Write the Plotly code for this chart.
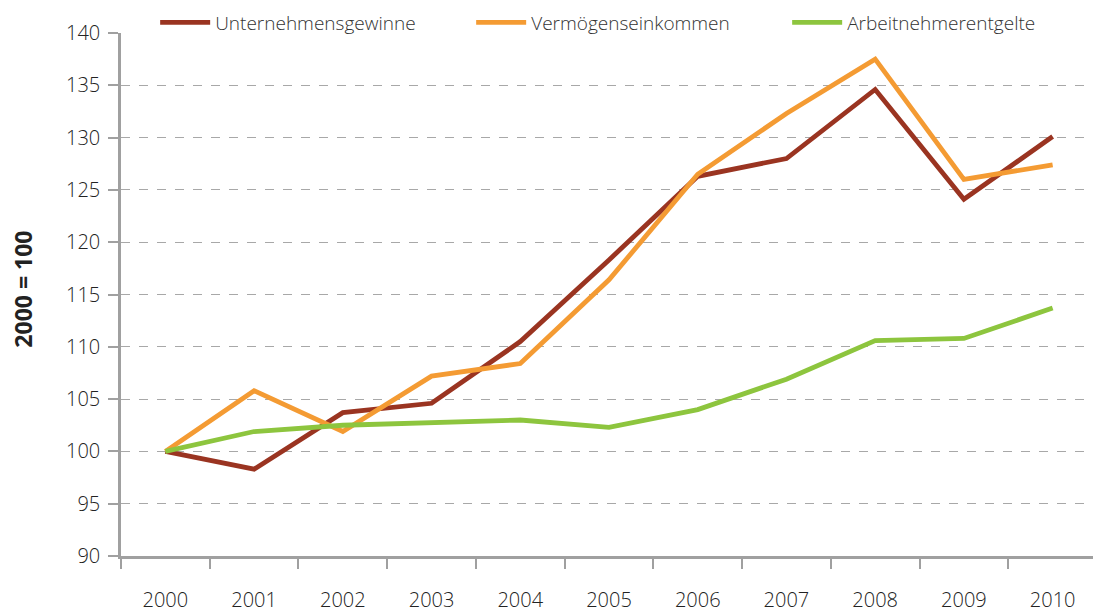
import plotly.graph_objects as go

years = ["2000", "2001", "2002", "2003", "2004", "2005", "2006", "2007", "2008", "2009", "2010"]
unternehmensgewinne = [100, 98.3, 103.7, 104.6, 110.5, 118.3, 126.3, 128.0, 134.6, 124.1, 130.1]
vermoegenseinkommen = [100, 105.8, 101.9, 107.2, 108.4, 116.4, 126.5, 132.3, 137.5, 126.0, 127.4]
arbeitnehmerentgelte = [100, 101.9, 102.5, 102.7, 103.0, 102.3, 104.0, 106.9, 110.6, 110.8, 113.7]
y_ticks = [90, 95, 100, 105, 110, 115, 120, 125, 130, 135, 140]

FONT = "Open Sans"

fig = go.Figure()
series = [
    ("Unternehmensgewinne", unternehmensgewinne, "#9A3421"),
    ("Vermögenseinkommen", vermoegenseinkommen, "#F49B33"),
    ("Arbeitnehmerentgelte", arbeitnehmerentgelte, "#8DC53E"),
]
for name, vals, col in series:
    fig.add_trace(go.Scatter(x=years, y=vals, name=name, mode="lines",
                             line=dict(color=col, width=4.8)))

# page body has a default 8px margin, so the figure is sized to fit the window
fig.update_layout(
    width=1093, height=605,
    margin=dict(l=113, r=4, t=25, b=57, autoexpand=False),
    paper_bgcolor="white", plot_bgcolor="white",
    font=dict(family=FONT, color="#222222", size=20, weight=300),
    showlegend=True,
    legend=dict(orientation="h", x=0.035, xanchor="left", y=1.02, yanchor="middle",
                bgcolor="white", font=dict(size=19, color="#333333", weight=300),
                entrywidth=251, entrywidthmode="pixels", itemwidth=50,
                traceorder="normal"),
    xaxis=dict(type="category", range=[-0.5, 10.5], tickson="boundaries",
               showline=True, linecolor="#A0A0A0", linewidth=2.5,
               ticks="outside", ticklen=10, tickwidth=2, tickcolor="#A0A0A0",
               showgrid=False, ticklabelstandoff=24,
               tickfont=dict(size=20, color="#222222", weight=300)),
    yaxis=dict(range=[90, 140], tickvals=y_ticks,
               showline=True, linecolor="#A0A0A0", linewidth=2.5,
               ticks="outside", ticklen=10, tickwidth=2, tickcolor="#A0A0A0",
               showgrid=True, gridcolor="#A8A8A8", griddash="dash", gridwidth=1,
               zeroline=False, ticklabelstandoff=4,
               tickfont=dict(size=20, color="#222222", weight=300)),
)
fig.add_annotation(text="<b>2000 = 100</b>", xref="paper", yref="paper",
                   x=-0.1, y=0.51, xanchor="center", yanchor="middle",
                   textangle=-90, showarrow=False,
                   font=dict(size=23, color="#222222", family=FONT, weight=700))

fig.write_html("out.html")
